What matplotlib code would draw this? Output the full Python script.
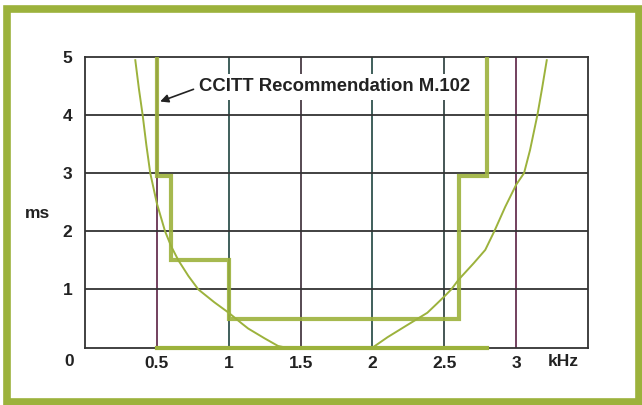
"""Group delay vs frequency with the CCITT M.102 mask."""

import matplotlib.pyplot as plt
from matplotlib.patches import Rectangle

# CCITT M.102 mask (step outline), kHz / ms
mask_khz = [0.5, 0.5, 0.6, 0.6, 1.0, 1.0, 2.6, 2.6, 2.8, 2.8]
mask_ms = [5.0, 2.95, 2.95, 1.5, 1.5, 0.5, 0.5, 2.95, 2.95, 5.0]
floor_khz = [0.5, 2.8]
floor_ms = [0.0, 0.0]

# measured group delay curve
curve_khz = [0.350, 0.375, 0.401, 0.427, 0.454, 0.5, 0.557, 0.6, 0.650, 0.72,
             0.789, 0.9, 1.0, 1.089, 1.135, 1.25, 1.343, 1.4, 1.5, 1.75, 2.0,
             2.105, 2.243, 2.382, 2.45, 2.5, 2.548, 2.6, 2.704, 2.785, 2.848,
             2.924, 3.0, 3.055, 3.097, 3.148, 3.18, 3.213]
curve_ms = [4.94, 4.45, 4.0, 3.48, 3.0, 2.48, 2.0, 1.74, 1.5, 1.23,
            1.0, 0.78, 0.60, 0.42, 0.33, 0.16, 0.03, 0.0, 0.0, 0.0, 0.0,
            0.18, 0.39, 0.60, 0.76, 0.88, 1.0, 1.17, 1.45, 1.68, 2.0,
            2.42, 2.80, 3.0, 3.40, 4.0, 4.45, 4.94]

x_ticks = [0.5, 1, 1.5, 2, 2.5, 3]
x_tick_labels = ["0.5", "1", "1.5", "2", "2.5", "3"]
y_ticks = [1, 2, 3, 4, 5]
y_tick_labels = ["1", "2", "3", "4", "5"]
grid_colors = ["#5a2043", "#1f4440", "#3a2a35", "#1f4440", "#263a38", "#5a2043"]

green = "#9cb23c"
ink = "#222222"
plt.rcParams["font.family"] = ["Liberation Sans", "DejaVu Sans"]

fig = plt.figure(figsize=(6.42, 4.05), dpi=100)
ax = fig.add_axes([0.1324, 0.1415, 0.7835, 0.7185])
ax.set_xlim(0, 3.5)
ax.set_ylim(0, 5)

for x, c in zip(x_ticks, grid_colors):
    ax.axvline(x, color=c, lw=1.2, zorder=1)
for y in y_ticks[:-1]:
    ax.axhline(y, color="#333333", lw=1.3, zorder=1)
for s in ax.spines.values():
    s.set_color("#333333")
    s.set_linewidth(1.3)

ax.plot(curve_khz, curve_ms, color=green, lw=1.4, zorder=2)
ax.plot(mask_khz, mask_ms, color=green, lw=3.0, alpha=0.9, zorder=3,
        solid_joinstyle="miter")
ax.plot(floor_khz, floor_ms, color=green, lw=3.0, zorder=3, clip_on=False)

ax.set_xticks(x_ticks, x_tick_labels)
ax.set_yticks(y_ticks, y_tick_labels)
ax.tick_params(length=0, labelsize=12.5, colors=ink, pad=6)
ax.tick_params(axis="y", pad=9)
for lab in ax.get_xticklabels() + ax.get_yticklabels():
    lab.set_fontweight("bold")

ax.text(-0.11, -0.1, "0", ha="center", va="top", fontsize=12.5,
        fontweight="bold", color=ink, clip_on=False)
ax.text(3.33, -0.1, "kHz", ha="center", va="top", fontsize=12.5,
        fontweight="bold", color=ink, clip_on=False)
fig.text(38 / 642, 1 - 214 / 405, "ms", ha="center", va="center",
         fontsize=12.5, fontweight="bold", color=ink)

ax.text(0.79, 4.48, "CCITT Recommendation M.102", ha="left", va="center",
        fontsize=13.3, fontweight="bold", color=ink, zorder=4,
        bbox=dict(boxstyle="square,pad=0.22", fc="white", ec="none"))
ax.annotate("", xy=(0.523, 4.23), xytext=(0.755, 4.44), zorder=5,
            arrowprops=dict(arrowstyle="-|>", color=ink, lw=1.2,
                            mutation_scale=12, shrinkA=0, shrinkB=0))

# green page frame
fig.patches.append(Rectangle((6.5 / 642, 1 - 401.5 / 405), 632 / 642, 393 / 405,
                             transform=fig.transFigure, fill=False,
                             edgecolor=green, lw=5.5))

fig.savefig("out.png", dpi=100)
